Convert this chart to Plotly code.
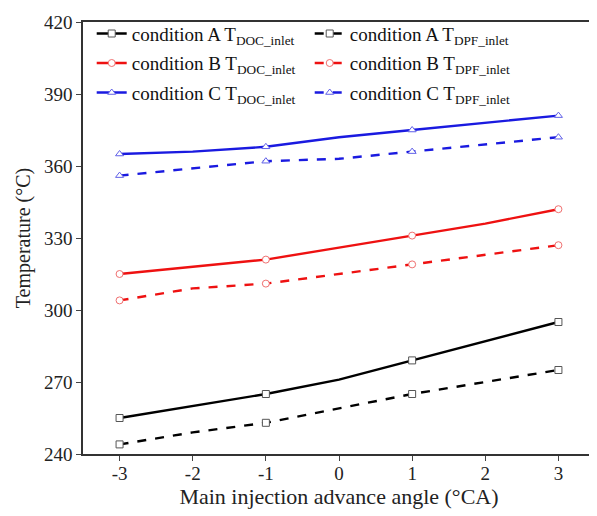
import plotly.graph_objects as go

x = [-3, -2, -1, 0, 1, 2, 3]
x_labels = ["-3", "-2", "-1", "0", "1", "2", "3"]
y_ticks = [240, 270, 300, 330, 360, 390, 420]
a_doc = [255, 260, 265, 271, 279, 287, 295]
a_dpf = [244, 249, 253, 259, 265, 270, 275]
b_doc = [315, 318, 321, 326, 331, 336, 342]
b_dpf = [304, 309, 311, 315, 319, 323, 327]
c_doc = [365, 366, 368, 372, 375, 378, 381]
c_dpf = [356, 359, 362, 363, 366, 369, 372]

names = [
    "condition A T<sub>DOC_inlet</sub>", "condition A T<sub>DPF_inlet</sub>",
    "condition B T<sub>DOC_inlet</sub>", "condition B T<sub>DPF_inlet</sub>",
    "condition C T<sub>DOC_inlet</sub>", "condition C T<sub>DPF_inlet</sub>",
]
series = [a_doc, a_dpf, b_doc, b_dpf, c_doc, c_dpf]
line_colors = ["#000000", "#000000", "#ee1111", "#ee1111", "#1a1ae0", "#1a1ae0"]
mk_colors = ["#555555", "#555555", "#f07070", "#f07070", "#6060e8", "#6060e8"]
symbols = ["square", "square", "circle", "circle", "triangle-up", "triangle-up"]
dashes = ["solid", "dash", "solid", "dash", "solid", "dash"]
legend_ids = ["legend", "legend", "legend2", "legend2", "legend3", "legend3"]

# markers shown only at every other point
shown = [True, False, True, False, True, False, True]

fig = go.Figure()
for nm, ys, lc, mc, sym, ds, lg in zip(names, series, line_colors, mk_colors, symbols, dashes, legend_ids):
    fill = ["white" if s else "rgba(0,0,0,0)" for s in shown]
    edge = [mc if s else "rgba(0,0,0,0)" for s in shown]
    fig.add_trace(go.Scatter(
        x=x, y=ys, name=nm, mode="lines+markers", legend=lg,
        line=dict(color=lc, width=2.4, dash=ds),
        marker=dict(symbol=sym, size=7, color=fill, line=dict(color=edge, width=1)),
    ))

font = "Liberation Serif, Times New Roman, serif"
plot_h = 508 - 14 - 62


def leg(ytop):
    return dict(
        orientation="h", x=0.017, y=ytop, xanchor="left", yanchor="top",
        entrywidth=173, entrywidthmode="pixels",
        font=dict(family=font, size=19, color="#111"),
        bgcolor="rgba(0,0,0,0)", tracegroupgap=0,
    )


fig.update_layout(
    width=589, height=508,
    margin=dict(l=75, r=0, t=14, b=62),
    plot_bgcolor="white", paper_bgcolor="white",
    font=dict(family=font, size=18, color="#222"),
    showlegend=True,
    legend=leg(1.017),
    legend2=leg(1.017 - 29.5 / plot_h),
    legend3=leg(1.017 - 59 / plot_h),
    xaxis=dict(
        range=[-3.5, 3.5], tickvals=x, ticktext=x_labels, ticks="outside", ticklen=5,
        showline=True, linecolor="#333", linewidth=1.5, mirror=True,
        showgrid=False, zeroline=False, ticklabelstandoff=-4,
        title=dict(text="Main injection advance angle (°CA)", font=dict(size=22), standoff=4),
        tickfont=dict(size=19),
    ),
    yaxis=dict(
        range=[240, 420], tickvals=y_ticks, ticks="outside", ticklen=5,
        showline=True, linecolor="#333", linewidth=1.5, mirror=True,
        showgrid=False, zeroline=False,
        title=dict(text="Temperature (°C)", font=dict(size=20), standoff=8),
        tickfont=dict(size=19),
    ),
)
fig.write_html("out.html")
